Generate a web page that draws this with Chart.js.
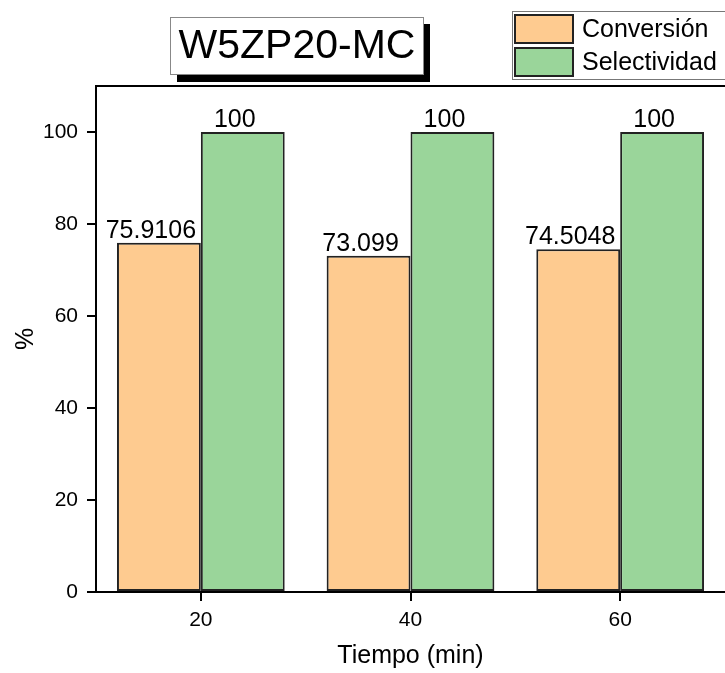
<!DOCTYPE html>
<html>
<head>
<meta charset="utf-8">
<script src="https://cdn.jsdelivr.net/npm/chart.js@4"></script>
<style>
  html, body { margin: 0; padding: 0; background: #fff; }
</style>
</head>
<body>
<canvas id="grafico" width="725" height="673"></canvas>
<script>
var tiempos = ["20", "40", "60"];
var conversion = [75.9106, 73.099, 74.5048];
var selectividad = [100, 100, 100];
var ticksY = [0, 20, 40, 60, 80, 100];
var titulo = "W5ZP20-MC";

var fuente = "'Liberation Sans', Arial, sans-serif";

// marco, titulo con sombra, leyenda y etiquetas de valor
var extras = {
    id: "extras",
    afterDraw: function (chart) {
        var ctx = chart.ctx;
        var a = chart.chartArea;
        ctx.save();

        // linea superior del marco
        ctx.strokeStyle = "#000";
        ctx.lineWidth = 2;
        ctx.beginPath();
        ctx.moveTo(a.left, a.top);
        ctx.lineTo(a.right + 2, a.top);
        ctx.stroke();

        // caja del titulo
        ctx.fillStyle = "#000";
        ctx.fillRect(177, 24, 253, 58);
        ctx.fillStyle = "#fff";
        ctx.fillRect(170, 17, 253, 57);
        ctx.strokeStyle = "#888";
        ctx.lineWidth = 1;
        ctx.strokeRect(170.5, 17.5, 253, 57);
        ctx.fillStyle = "#000";
        ctx.font = "41px " + fuente;
        ctx.textAlign = "center";
        ctx.textBaseline = "middle";
        ctx.fillText(titulo, 297, 47);

        // leyenda
        ctx.fillStyle = "#fff";
        ctx.fillRect(512, 11, 230, 68);
        ctx.strokeStyle = "#777";
        ctx.strokeRect(512.5, 11.5, 230, 68);
        ctx.textAlign = "left";
        ctx.font = "25px " + fuente;
        chart.data.datasets.forEach(function (ds, i) {
            var y = 15 + i * 33;
            ctx.fillStyle = ds.backgroundColor;
            ctx.fillRect(515, y, 58, 28);
            ctx.strokeStyle = "#222";
            ctx.lineWidth = 2;
            ctx.strokeRect(515, y, 58, 28);
            ctx.fillStyle = "#000";
            ctx.fillText(ds.label, 582, y + 15);
        });

        // valores encima de cada barra
        ctx.font = "25px " + fuente;
        ctx.textAlign = "center";
        ctx.textBaseline = "alphabetic";
        ctx.fillStyle = "#000";
        chart.data.datasets.forEach(function (ds, i) {
            chart.getDatasetMeta(i).data.forEach(function (bar, j) {
                ctx.fillText(String(ds.data[j]), bar.x - 8, bar.y - 5);
            });
        });
        ctx.restore();
    }
};

var ctx = document.getElementById("grafico").getContext("2d");
new Chart(ctx, {
    type: "bar",
    data: {
        labels: tiempos,
        datasets: [
            {
                label: "Conversión",
                data: conversion,
                backgroundColor: "#FECB90",
                borderColor: "#222",
                borderWidth: 2,
                borderSkipped: false
            },
            {
                label: "Selectividad",
                data: selectividad,
                backgroundColor: "#9AD59A",
                borderColor: "#222",
                borderWidth: 2,
                borderSkipped: false
            }
        ]
    },
    options: {
        responsive: false,
        animation: false,
        devicePixelRatio: 1,
        categoryPercentage: 0.8,
        barPercentage: 1,
        layout: { padding: { top: 86, right: 0, left: 0, bottom: 0 } },
        plugins: {
            legend: { display: false },
            title: { display: false },
            tooltip: { enabled: false }
        },
        scales: {
            x: {
                offset: true,
                afterFit: function (s) { s.height = 81; },
                grid: {
                    offset: false,
                    drawOnChartArea: false,
                    drawTicks: true,
                    tickLength: 9,
                    color: "#000",
                    lineWidth: 2
                },
                border: { display: true, color: "#000", width: 2 },
                ticks: {
                    color: "#000",
                    padding: 7,
                    font: { family: fuente, size: 21 }
                },
                title: {
                    display: true,
                    text: "Tiempo (min)",
                    color: "#000",
                    padding: { top: 0, bottom: 2 },
                    font: { family: fuente, size: 25 }
                }
            },
            y: {
                min: 0,
                max: 110,
                afterFit: function (s) { s.width = 96; },
                afterBuildTicks: function (s) {
                    s.ticks = ticksY.map(function (v) { return { value: v }; });
                },
                grid: {
                    drawOnChartArea: false,
                    drawTicks: true,
                    tickLength: 9,
                    color: "#000",
                    lineWidth: 2
                },
                border: { display: true, color: "#000", width: 2 },
                ticks: {
                    color: "#000",
                    padding: 9,
                    font: { family: fuente, size: 21 }
                },
                title: {
                    display: true,
                    text: "%",
                    color: "#000",
                    padding: { top: 11, bottom: 0 },
                    font: { family: fuente, size: 25 }
                }
            }
        }
    },
    plugins: [extras]
});
</script>
</body>
</html>
